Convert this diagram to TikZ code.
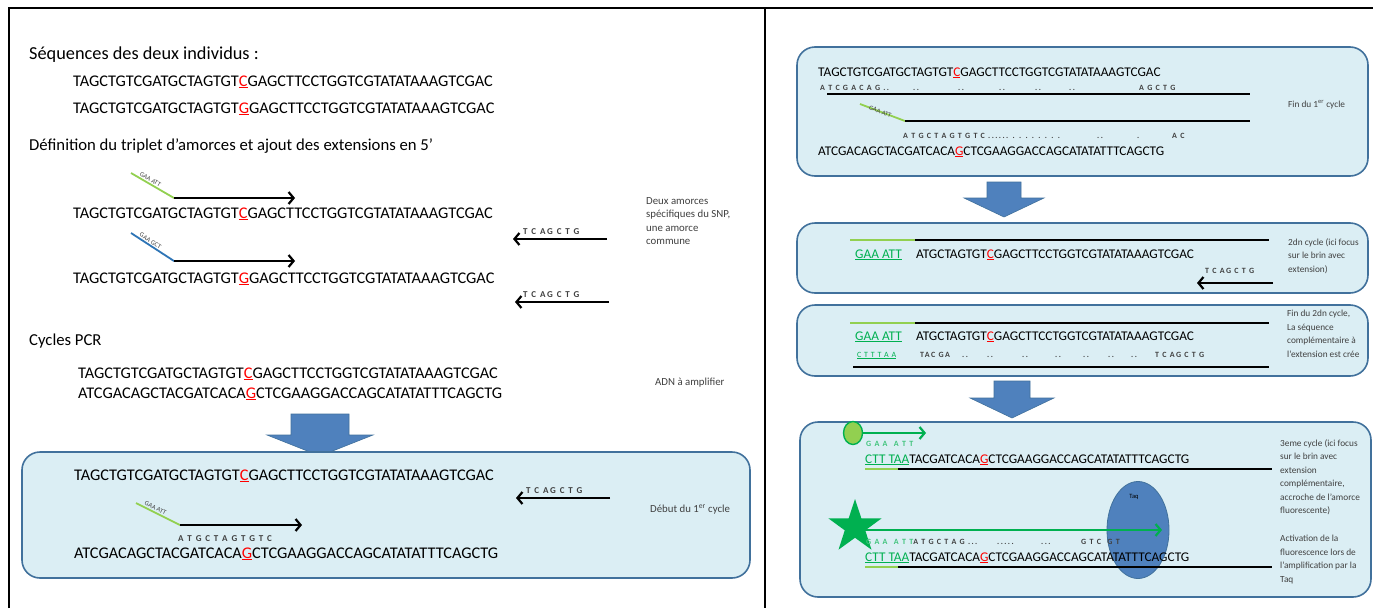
\documentclass[tikz,border=0pt]{standalone}
\usepackage{fontspec}
\setmainfont{Carlito}
\usetikzlibrary{arrows.meta,shapes.geometric}
\definecolor{boxfill}{HTML}{DBEEF4}
\definecolor{boxline}{HTML}{41719C}
\definecolor{blk}{HTML}{4F81BD}
\definecolor{lgreen}{HTML}{92D050}
\definecolor{grn}{HTML}{00B050}
\definecolor{prim2}{HTML}{2E75B6}
\definecolor{snpred}{HTML}{FF0000}
\definecolor{smallgray}{HTML}{404040}
\newcommand{\snp}[1]{\textcolor{snpred}{\underline{#1}}}
\newcommand{\gu}[1]{\textcolor{grn}{\underline{#1}}}
% block arrow: cx, top, shaft half width, head half width, head base y, tip y
\newcommand{\blockdown}[6]{%
  \fill[blk, draw=boxline, line width=0.6]
    ({#1-#3},#2) -- ({#1+#3},#2) -- ({#1+#3},#5) -- ({#1+#4},#5) -- (#1,#6)
    -- ({#1-#4},#5) -- ({#1-#3},#5) -- cycle;}
\begin{document}
\begin{tikzpicture}[x=1pt,y=-1pt,
  seqA/.style={anchor=base west, inner sep=0, font=\fontsize{16.3}{18}\selectfont},
  seqB/.style={anchor=base west, inner sep=0, font=\fontsize{13.3}{15}\selectfont},
  head/.style={anchor=base west, inner sep=0, font=\fontsize{16.7}{20}\selectfont},
  tinylab/.style={inner sep=0, font=\fontsize{6.5}{7}\selectfont, text=smallgray},
  primL/.style={anchor=base west, inner sep=0, font=\fontsize{9}{10}\bfseries\addfontfeature{LetterSpace=20}\selectfont, text=smallgray},
  primR/.style={anchor=base west, inner sep=0, font=\fontsize{8}{9}\bfseries\addfontfeature{LetterSpace=18}\selectfont, text=smallgray},
  noteL/.style={anchor=north west, inner sep=0, align=left, font=\fontsize{10.8}{13.5}\selectfont, text=smallgray},
  note/.style={anchor=north west, inner sep=0, align=left, font=\fontsize{9.3}{13.5}\selectfont, text=smallgray},
  dna/.style={line width=1.8},
  fwd/.style={line width=2.2, -{Straight Barb[length=5pt,width=12pt]}},
  gfwd/.style={grn, line width=2.2, -{Straight Barb[length=5pt,width=12pt]}},
  panel/.style={rounded corners=18, fill=boxfill, draw=boxline, line width=1.6},
]
\useasboundingbox (0,0) rectangle (1373,608);
\fill[white] (0,0) rectangle (1373,608);
\draw[line width=2.4] (9,608) -- (9,8) -- (1373,8);
\draw[line width=2.2] (765,8) -- (765,608);

% ---------------- LEFT PANEL ----------------
\node[head, font=\fontsize{18.3}{20}\selectfont] (h1) at (29,59) {Séquences des deux individus :};
\node[seqA] (s1) at (73,86) {TAGCTGTCGATGCTAGTGT\snp{C}GAGCTTCCTGGTCGTATATAAAGTCGAC};
\node[seqA] (s2) at (73,113) {TAGCTGTCGATGCTAGTGT\snp{G}GAGCTTCCTGGTCGTATATAAAGTCGAC};
\node[head] (h2) at (29,150) {Définition du triplet d’amorces et ajout des extensions en 5’};

\coordinate (p1a) at (131,173); \coordinate (p1b) at (174,198); \coordinate (p1c) at (295,198);
\draw[lgreen, line width=1.8] (p1a) -- node[sloped, above=1.2pt, pos=0.4, tinylab] (l1) {GAA\kern1.8pt ATT} (p1b);
\draw[fwd] (p1b) -- (p1c);
\node[seqA] (s3) at (73,218) {TAGCTGTCGATGCTAGTGT\snp{C}GAGCTTCCTGGTCGTATATAAAGTCGAC};

\coordinate (p2a) at (131,233); \coordinate (p2b) at (174,261); \coordinate (p2c) at (295,261);
\draw[prim2, line width=1.8] (p2a) -- node[sloped, above=1.2pt, pos=0.4, tinylab] (l2) {GAA\kern1.8pt GCT} (p2b);
\draw[fwd] (p2b) -- (p2c);
\node[seqA] (s4) at (73,283) {TAGCTGTCGATGCTAGTGT\snp{G}GAGCTTCCTGGTCGTATATAAAGTCGAC};

\node[primL] (r1) at (523,234) {T C AG C T G};
\coordinate (r1a) at (607,239); \coordinate (r1b) at (513,239);
\draw[fwd] (r1a) -- (r1b);
\node[primL] (r2) at (523,297) {T C AG C T G};
\coordinate (r2a) at (609,302); \coordinate (r2b) at (515,302);
\draw[fwd] (r2a) -- (r2b);
\node[noteL] (n1) at (646,197) {Deux amorces\\spécifiques du SNP,\\une amorce\\commune};

\node[head] (h3) at (29,345) {Cycles PCR};
\node[seqA] (s5) at (78,378) {TAGCTGTCGATGCTAGTGT\snp{C}GAGCTTCCTGGTCGTATATAAAGTCGAC};
\node[seqA] (s6) at (78,398) {ATCGACAGCTACGATCACA\snp{G}CTCGAAGGACCAGCATATATTTCAGCTG};
\node[noteL, anchor=base west] (n2) at (655,385) {ADN à amplifier};

\blockdown{320}{414}{29}{53}{435}{456}

\draw[panel] (22,452) rectangle (750,578);
\node[seqA] (s7) at (74,480) {TAGCTGTCGATGCTAGTGT\snp{C}GAGCTTCCTGGTCGTATATAAAGTCGAC};
\node[primL] (r3) at (526,493) {T C AG C T G};
\coordinate (r3a) at (610,498); \coordinate (r3b) at (516,498);
\draw[fwd] (r3a) -- (r3b);
\node[noteL, anchor=base west] (n3) at (650,512) {Début du 1\textsuperscript{er} cycle};
\coordinate (p3a) at (136,503); \coordinate (p3b) at (180,525); \coordinate (p3c) at (302,525);
\draw[lgreen, line width=1.8] (p3a) -- node[sloped, above=1.2pt, pos=0.4, tinylab] (l3) {GAA\kern1.8pt ATT} (p3b);
\draw[fwd] (p3b) -- (p3c);
\node[primL] (e1) at (178,541) {A T G C T A G T G T C};
\node[seqA] (s8) at (74,558) {ATCGACAGCTACGATCACA\snp{G}CTCGAAGGACCAGCATATATTTCAGCTG};

% ---------------- RIGHT PANEL ----------------
% box 1
\draw[panel] (797,47) rectangle (1368,176);
\node[seqB] (t1) at (818,76) {TAGCTGTCGATGCTAGTGT\snp{C}GAGCTTCCTGGTCGTATATAAAGTCGAC};
\node[primR] (a1) at (820,90) {A T C G A C A G ..};
\node[primR] (a2) at (913,90) {..};
\node[primR] (a3) at (958,90) {..};
\node[primR] (a4) at (999,90) {..};
\node[primR] (a5) at (1035,90) {..};
\node[primR] (a6) at (1069,90) {..};
\node[primR] (a7) at (1139,90) {A G C T G};
\coordinate (m1a) at (827,94); \coordinate (m1b) at (1250,94);
\draw[dna] (m1a) -- (m1b);
\coordinate (g1a) at (860,104); \coordinate (g1b) at (905,121);
\draw[lgreen, line width=1.8] (g1a) -- node[sloped, pos=0.45, tinylab] (l4) {GAA\kern1.8pt ATT} (g1b);
\coordinate (m2a) at (905,121); \coordinate (m2b) at (1250,121);
\draw[dna] (m2a) -- (m2b);
\node[primR] (b1) at (903,138) {A T G C T A G T G T C ...... . . . . . . . .};
\node[primR] (b2) at (1097,138) {..};
\node[primR] (b3) at (1137,138) {.};
\node[primR] (b4) at (1172,138) {A C};
\node[seqB] (t2) at (818,155) {ATCGACAGCTACGATCACA\snp{G}CTCGAAGGACCAGCATATATTTCAGCTG};
\node[note, anchor=base west] (n4) at (1288,107) {Fin du 1\textsuperscript{er} cycle};

\blockdown{1004}{182}{17}{40}{198}{217}

% box 2
\draw[panel] (797,223) rectangle (1368,293);
\coordinate (q1a) at (850,240); \coordinate (q1b) at (915,240); \coordinate (q1c) at (1269,240);
\draw[lgreen, line width=1.8] (q1a) -- (q1b);
\draw[dna] (q1b) -- (q1c);
\node[seqB] (u1) at (855,258) {\gu{GAA ATT}};
\node[seqB] (u2) at (916,258) {ATGCTAGTGT\snp{C}GAGCTTCCTGGTCGTATATAAAGTCGAC};
\node[primR] (u3) at (1205,273) {T C AG C T G};
\coordinate (r4a) at (1273,283); \coordinate (r4b) at (1197,283);
\draw[fwd] (r4a) -- (r4b);
\node[note] (n5) at (1288,238) {2dn cycle (ici focus\\sur le brin avec\\extension)};

% box 3
\draw[panel] (797,305) rectangle (1368,376);
\coordinate (q2a) at (850,323); \coordinate (q2b) at (915,323); \coordinate (q2c) at (1269,323);
\draw[lgreen, line width=1.8] (q2a) -- (q2b);
\draw[dna] (q2b) -- (q2c);
\node[seqB] (v1) at (855,340) {\gu{GAA ATT}};
\node[seqB] (v2) at (916,340) {ATGCTAGTGT\snp{C}GAGCTTCCTGGTCGTATATAAAGTCGAC};
\node[primR, text=grn, font=\fontsize{8}{9}\addfontfeature{LetterSpace=12}\selectfont] (v3) at (857,357) {\underline{C T T T A A}};
\node[primR] (v4) at (920,357) {TAC GA};
\foreach \xx [count=\i] in {962,987,1022,1055,1083,1108,1131}
  \node[primR] (vd\i) at (\xx,357) {..};
\node[primR] (v5) at (1155,357) {T C AG C T G};
\coordinate (q3a) at (853,367); \coordinate (q3b) at (1269,367);
\draw[dna] (q3a) -- (q3b);
\node[note] (n6) at (1287,310) {Fin du 2dn cycle,\\La séquence\\complémentaire à\\l’extension est crée};

\blockdown{1012}{381}{18}{42}{398}{418}

% box 4
\draw[panel] (800,422) rectangle (1371,597);
\node[ellipse, fill=blk, draw=boxline, line width=0.8, minimum width=62, minimum height=97, inner sep=0] (taq) at (1138,530) {};
\node[tinylab, text=black] (taqt) at (1134,497) {Taq};
\node[ellipse, fill=lgreen, draw=grn, line width=1.4, minimum width=19, minimum height=23, inner sep=0] (dot) at (853,433) {};
\coordinate (ga) at (863,433); \coordinate (gb) at (926,433);
\draw[gfwd] (ga) -- (gb);
\node[primR, text=grn!75!white] (w1) at (866,446) {G A A \ A T T};
\node[seqB] (w2) at (865,463) {\gu{CTT TAA}TACGATCACA\snp{G}CTCGAAGGACCAGCATATATTTCAGCTG};
\coordinate (k1a) at (865,469); \coordinate (k1b) at (898,469); \coordinate (k1c) at (1272,469);
\draw[lgreen, line width=1.8] (k1a) -- (k1b);
\draw[dna] (k1b) -- (k1c);

\node[star, star points=5, star point ratio=2.6, fill=grn, minimum size=56, inner sep=0] (st) at (855,527) {};
\coordinate (gc) at (862,530); \coordinate (gd) at (1162,530);
\draw[gfwd] (gc) -- (gd);
\node[primR] (w3) at (866,544) {\textcolor{grn!75!white}{G A A \ A T T}A T G C T A G ...};
\node[primR] (w4) at (997,544) {.....};
\node[primR] (w5) at (1041,544) {...};
\node[primR] (w6) at (1081,544) {G T C \ G T};
\node[seqB] (w7) at (865,561) {\gu{CTT TAA}TACGATCACA\snp{G}CTCGAAGGACCAGCATATATTTCAGCTG};
\coordinate (k2a) at (865,567); \coordinate (k2b) at (898,567); \coordinate (k2c) at (1272,567);
\draw[lgreen, line width=1.8] (k2a) -- (k2b);
\draw[dna] (k2b) -- (k2c);

\node[note] (n7) at (1280,439) {3eme cycle (ici focus\\sur le brin avec\\extension\\complémentaire,\\accroche de l’amorce\\fluorescente)};
\node[note] (n8) at (1280,535) {Activation de la\\fluorescence lors de\\l’amplification par la\\Taq};
\end{tikzpicture}
\end{document}
